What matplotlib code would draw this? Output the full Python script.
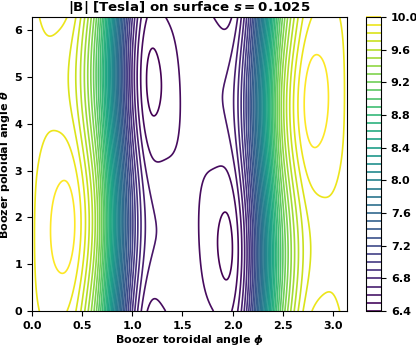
import numpy as np
import matplotlib.pyplot as plt

# Boozer spectrum of |B| on the s = 0.1025 surface (nfp = 2)
nfp = 2
s_label = 0.1025
xm = [0, 0, 0, 0, 0, 0, 0, 0, 0, 0, 0, 0, 0, 0,
      1, 1, 1, 1, 1]
xn = [0, 2, 4, 6, 8, 10, 12, 14, 16, 18, 20, 22, 24, 26,
      0, 2, -2, 4, -4]
bmnc = [8.2476, 2.0408, -0.0560, -0.4152, 0.0532, 0.0579, -0.0327,
        -0.0132, 0.0077, 0.0078, -0.0010, -0.0081, 0.0004, 0.0004,
        -0.0310, 0.0869, -0.0931, 0.0185, 0.0185]

levels = np.linspace(6.4, 10.0, 37)
cbar_ticks = [6.4, 6.8, 7.2, 7.6, 8.0, 8.4, 8.8, 9.2, 9.6, 10.0]

phi = np.linspace(0, 2 * np.pi / nfp, 300)
theta = np.linspace(0, 2 * np.pi, 300)
PHI, THETA = np.meshgrid(phi, theta)
modB = np.zeros_like(PHI)
for m, n, b in zip(xm, xn, bmnc):
    modB += b * np.cos(m * THETA - n * PHI)

plt.rcParams['font.size'] = 8
plt.rcParams['font.weight'] = 'bold'
plt.rcParams['axes.labelweight'] = 'bold'
plt.rcParams['axes.titleweight'] = 'bold'
plt.rcParams['mathtext.fontset'] = 'custom'
plt.rcParams['mathtext.rm'] = 'DejaVu Sans:bold'
plt.rcParams['mathtext.it'] = 'DejaVu Sans:italic:bold'
plt.rcParams['mathtext.bf'] = 'DejaVu Sans:bold'

fig = plt.figure(figsize=(4.16, 3.46), dpi=100)
ax = fig.add_axes([0.077, 0.101, 0.757, 0.850])
cax = fig.add_axes([0.880, 0.101, 0.036, 0.850])

cs = ax.contour(PHI, THETA, modB, levels=levels, cmap='viridis', linewidths=1.2)
fig.colorbar(cs, cax=cax, ticks=cbar_ticks)

ax.set_xlabel(r'Boozer toroidal angle $\phi$', labelpad=1)
ax.set_ylabel(r'Boozer poloidal angle $\theta$', labelpad=2)
ax.set_title(r'|B| [Tesla] on surface $s = %s$' % s_label, fontsize='large', pad=4)

fig.savefig('out.png')
